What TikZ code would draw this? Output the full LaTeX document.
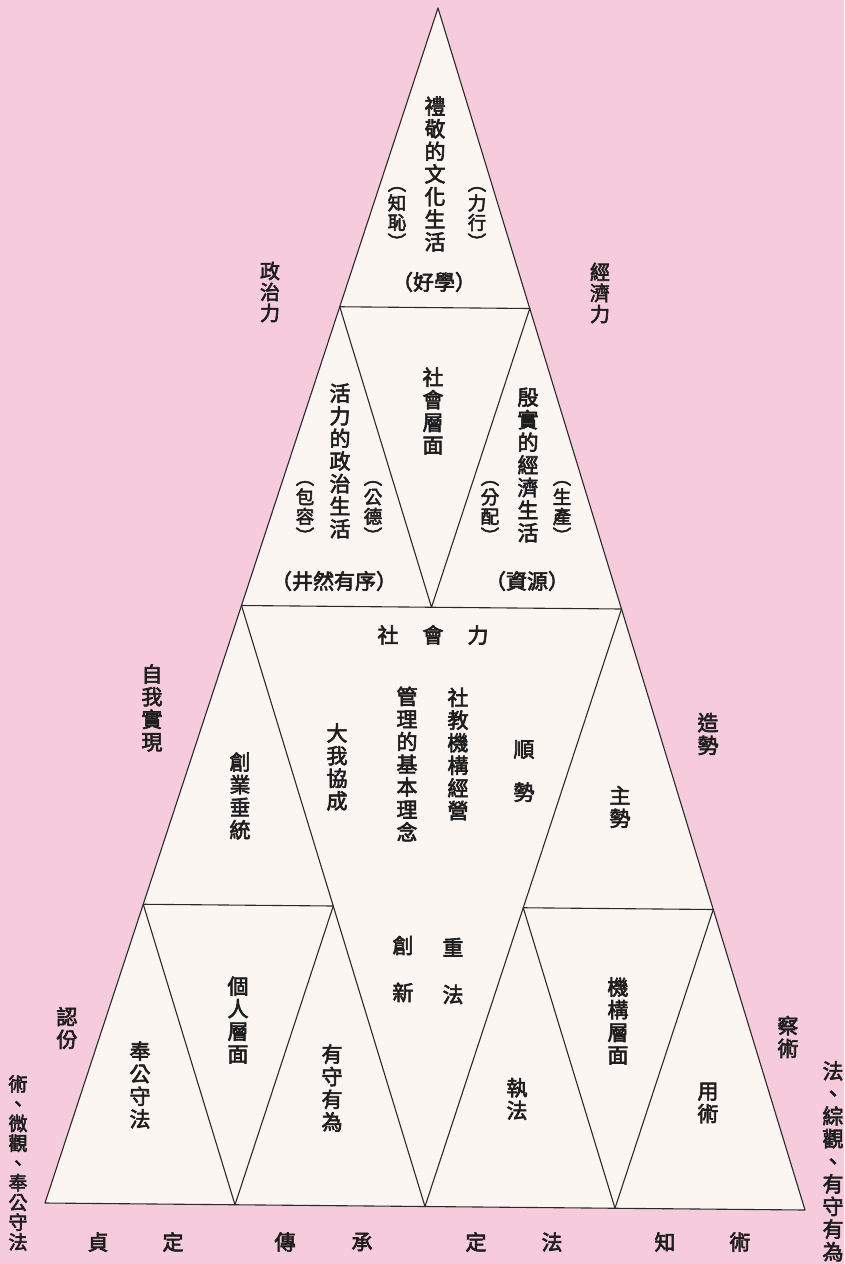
\documentclass[tikz,border=0pt]{standalone}
\usepackage{fontspec}
\newfontfamily\cjk{Noto Sans CJK TC}[FakeBold=3]
\usetikzlibrary{calc}
\definecolor{bgpink}{HTML}{F6CBDB}
\definecolor{fillc}{HTML}{FCF6F3}
\definecolor{linec}{HTML}{2A2A2A}
\definecolor{txt}{HTML}{1E1E1E}
\tikzset{
  vt/.style={font=\cjk\fontsize{21}{22.6}\selectfont, align=center, inner sep=0pt, text=txt},
  pt/.style={font=\cjk\fontsize{18.5}{19.5}\selectfont, align=center, inner sep=0pt, text=txt},
  sidelab/.style={font=\cjk\fontsize{20}{21}\selectfont, align=center, inner sep=0pt, text=txt},
  narrowlab/.style={font=\cjk\fontsize{19}{19.75}\selectfont, align=center, inner sep=0pt, text=txt},
  seg/.style={draw=linec, line width=1.1pt, line join=round, line cap=round},
}
\begin{document}
\begin{tikzpicture}[x=1pt,y=-1pt]
\fill[bgpink] (0,0) rectangle (844,1264);
\useasboundingbox (0,0) rectangle (844,1264);
% main vertices
\coordinate (A) at (438,8);
\coordinate (B) at (45,1203);
\coordinate (C) at (805,1210);
\coordinate (P1) at ($(A)!.25!(B)$);
\coordinate (P2) at ($(A)!.25!(C)$);
\coordinate (L2) at ($(A)!.5!(B)$);
\coordinate (R2) at ($(A)!.5!(C)$);
\coordinate (M1) at ($(L2)!.5!(R2)$);
\coordinate (Q)  at ($(B)!.5!(C)$);
\coordinate (L3a) at ($(A)!.75!(B)$);
\coordinate (L3b) at ($(L2)!.5!(Q)$);
\coordinate (V1) at ($(B)!.5!(Q)$);
\coordinate (R3a) at ($(R2)!.5!(Q)$);
\coordinate (R3b) at ($(A)!.75!(C)$);
\coordinate (V2) at ($(Q)!.5!(C)$);
% fill and lines
\fill[fillc] (A) -- (B) -- (C) -- cycle;
\draw[seg] (A) -- (B) -- (C) -- cycle;
\draw[seg] (P1) -- (P2);
\draw[seg] (L2) -- (R2);
\draw[seg] (P1) -- (M1) -- (P2);
\draw[seg] (L2) -- (Q) -- (R2);
\draw[seg] (L3a) -- (L3b);
\draw[seg] (L3a) -- (V1) -- (L3b);
\draw[seg] (R3a) -- (R3b);
\draw[seg] (R3a) -- (V2) -- (R3b);
% top tier
\node[vt] (t1) at (435,174) {禮\\敬\\的\\文\\化\\生\\活};
\node[pt] (t2) at (397,218) {︵\\知\\恥\\︶};
\node[pt] (t3) at (477,218) {︵\\力\\行\\︶};
\node[vt] (t4) at (434,282) {（好學）};
\node[sidelab] (s1) at (270,292) {政\\治\\力};
\node[sidelab] (s2) at (600,293) {經\\濟\\力};
% second tier
\node[vt] (m1) at (340,461) {活\\力\\的\\政\\治\\生\\活};
\node[pt] (m2) at (373,512) {︵\\公\\德\\︶};
\node[pt] (m3) at (305,512) {︵\\包\\容\\︶};
\node[vt] (m4) at (334,581) {（井然有序）};
\node[vt] (m5) at (433,411) {社\\會\\層\\面};
\node[vt] (m6) at (528,465) {殷\\實\\的\\經\\濟\\生\\活};
\node[pt] (m7) at (562,512) {︵\\生\\產\\︶};
\node[pt] (m8) at (490,512) {︵\\分\\配\\︶};
\node[vt] (m9) at (527,581) {（資源）};
% third tier
\node[vt] (c1) at (433,635) {社\hspace{24pt}會\hspace{24pt}力};
\node[vt] (c2) at (407,764) {管\\理\\的\\基\\本\\理\\念};
\node[vt] (c3) at (458,754) {社\\教\\機\\構\\經\\營};
\node[vt] (c4) at (337,767) {大\\我\\協\\成};
\node[vt] (c5) at (524,771) {順\\[20.4pt]勢};
\node[vt] (c6) at (240,796) {創\\業\\垂\\統};
\node[vt] (c7) at (620,807) {主\\勢};
\node[vt] (c8) at (152,708) {自\\我\\實\\現};
\node[vt] (c9) at (708,734) {造\\勢};
\node[vt] (c10) at (403,969) {創\\[24.4pt]新};
\node[vt] (c11) at (453,971) {重\\[24.4pt]法};
% bottom tier
\node[vt] (b1) at (140,1085) {奉\\公\\守\\法};
\node[vt] (b2) at (238,1020) {個\\人\\層\\面};
\node[vt] (b3) at (332,1088) {有\\守\\有\\為};
\node[vt] (b4) at (67,1028) {認\\份};
\node[narrowlab, anchor=north] (b5) at (18,1075) {術\\、\\微\\觀\\、\\奉\\公\\守\\法};
\node[vt] (b6) at (517,1099) {執\\法};
\node[vt] (b7) at (618,1021) {機\\構\\層\\面};
\node[vt] (b8) at (708,1103) {用\\術};
\node[vt] (b9) at (788,1037) {察\\術};
\node[vt, anchor=north] (b10) at (833,1061) {法\\、\\綜\\觀\\、\\有\\守\\有\\為};
% base labels
\node[vt] (f1) at (98,1242) {貞};
\node[vt] (f2) at (173,1242) {定};
\node[vt] (f3) at (285,1242) {傳};
\node[vt] (f4) at (362,1242) {承};
\node[vt] (f5) at (476,1242) {定};
\node[vt] (f6) at (552,1242) {法};
\node[vt] (f7) at (665,1242) {知};
\node[vt] (f8) at (740,1242) {術};
\end{tikzpicture}
\end{document}
